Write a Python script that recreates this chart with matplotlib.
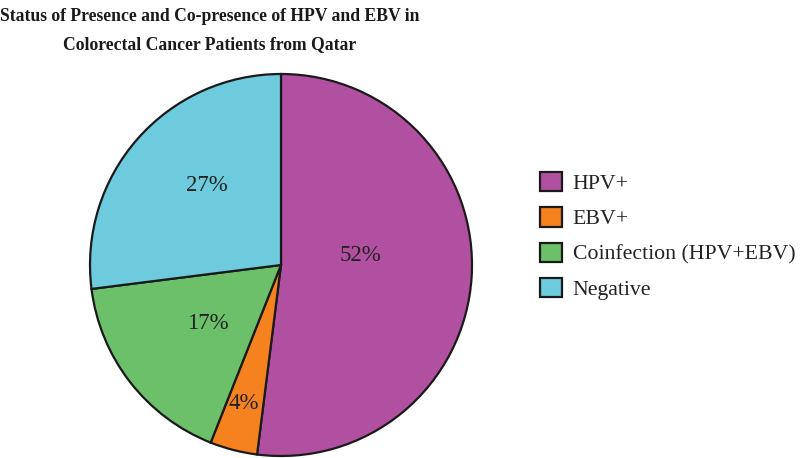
import matplotlib.pyplot as plt
import numpy as np

labels = ["HPV+", "EBV+", "Coinfection (HPV+EBV)", "Negative"]
shares = [52, 4, 17, 27]
colors = ["#B150A0", "#F5821F", "#6CC06A", "#6DCBDD"]
# where each percentage sits: fraction of radius, shift from wedge middle (deg)
label_dist = [0.42, 0.75, 0.49, 0.57]
label_shift = [10.6, -0.6, 0.7, -5.6]
title_lines = ["Status of Presence and Co-presence of HPV and EBV in",
               "Colorectal Cancer Patients from Qatar"]

plt.rcParams["font.family"] = ["Liberation Serif", "DejaVu Serif"]

fig = plt.figure(figsize=(8, 4.58), dpi=100)
ax = fig.add_axes([90 / 800, 2 / 458, 382 / 800, 382 / 458])

wedges, _ = ax.pie(shares, colors=colors, startangle=90, counterclock=False,
                   wedgeprops=dict(edgecolor="#1a1a1a", linewidth=1.6))
ax.set_xlim(-1.0, 1.0)
ax.set_ylim(-1.0, 1.0)
ax.set_aspect("equal")

for w, v, d, s in zip(wedges, shares, label_dist, label_shift):
    ang = np.deg2rad((w.theta1 + w.theta2) / 2 + s)
    ax.text(d * np.cos(ang), d * np.sin(ang), f"{v}%", ha="center", va="center",
            fontsize=16.5, color="#222222")

# title, two centred lines
fig.text(210 / 800, 1 - 21 / 458, title_lines[0], ha="center", va="baseline",
         fontsize=12.7, fontweight="bold", color="#1a1a1a")
fig.text(210 / 800, 1 - 49 / 458, title_lines[1], ha="center", va="baseline",
         fontsize=12.7, fontweight="bold", color="#1a1a1a")

leg = fig.legend(wedges, labels, loc="center left", bbox_to_anchor=(540 / 800, 1 - 236 / 458),
                 frameon=False, fontsize=15.7, handlelength=1.0, handleheight=1.0,
                 labelspacing=0.6, handletextpad=0.5, borderpad=0, borderaxespad=0)
for t in leg.get_texts():
    t.set_color("#222222")

fig.savefig("out.png", dpi=100)
